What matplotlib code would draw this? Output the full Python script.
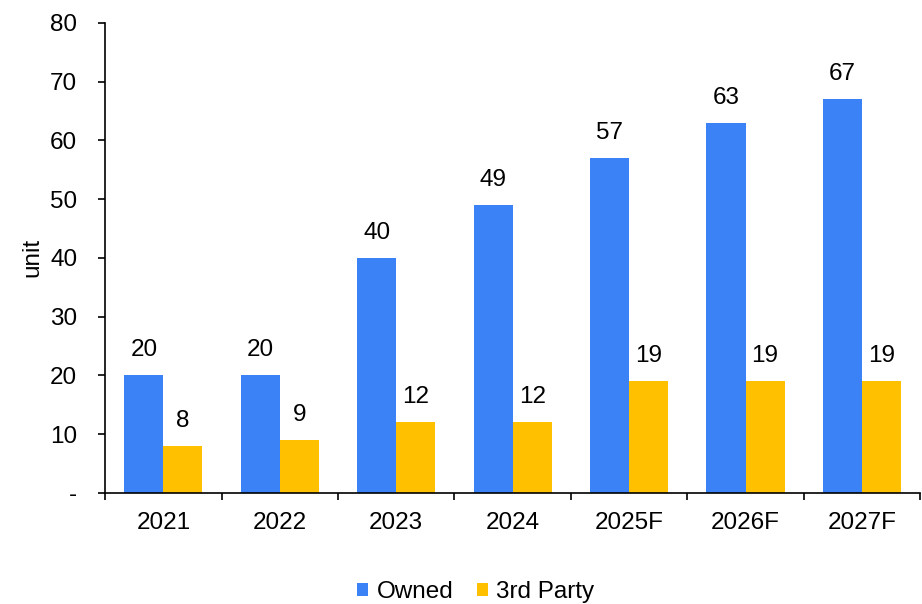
import matplotlib
matplotlib.use("Agg")
import matplotlib.pyplot as plt
import numpy as np

plt.rcParams['font.family'] = ['Liberation Sans', 'DejaVu Sans']

years = ["2021", "2022", "2023", "2024", "2025F", "2026F", "2027F"]
owned = [20, 20, 40, 49, 57, 63, 67]
third_party = [8, 9, 12, 12, 19, 19, 19]
yticks = [0, 10, 20, 30, 40, 50, 60, 70, 80]
ytick_labels = ["-", "10", "20", "30", "40", "50", "60", "70", "80"]

blue = "#3A82F6"
gold = "#FFC000"
fs = 17.5

fig = plt.figure(figsize=(9.22, 6.04), dpi=100)
ax = fig.add_axes([0.114, 0.184, 0.884, 0.778])

x = np.arange(len(years))
w = 0.335
b1 = ax.bar(x - w / 2, owned, w, color=blue, label="Owned")
b2 = ax.bar(x + w / 2, third_party, w, color=gold, label="3rd Party")

for bars, vals in ((b1, owned), (b2, third_party)):
    for rect, v in zip(bars, vals):
        ax.annotate(str(v), (rect.get_x() + rect.get_width() / 2, v),
                    xytext=(0, 10), textcoords="offset points",
                    ha="center", va="bottom", fontsize=fs)

ax.set_xlim(-0.5, len(years) - 0.5)
ax.set_ylim(0, 80)
ax.set_yticks(yticks)
ax.set_yticklabels(ytick_labels, fontsize=fs)
ax.set_xticks(x)
ax.set_xticklabels(years, fontsize=fs)
ax.set_xticks(np.arange(len(years) + 1) - 0.5, minor=True)
ax.tick_params(axis="x", which="major", length=0, pad=14)
ax.tick_params(axis="x", which="minor", length=5, width=1.2, direction="out")
ax.tick_params(axis="y", length=5, width=1.2, direction="out", pad=15)
ax.set_ylabel("unit", fontsize=fs, labelpad=5)

for s in ("top", "right"):
    ax.spines[s].set_visible(False)
for s in ("left", "bottom"):
    ax.spines[s].set_linewidth(1.2)

fig.legend(handles=[b1, b2], loc="lower center", bbox_to_anchor=(0.516, -0.035),
           ncol=2, frameon=False, fontsize=fs, handlelength=0.45,
           handleheight=0.45, handletextpad=0.35, columnspacing=0.95)

fig.savefig("out.png", dpi=100)
